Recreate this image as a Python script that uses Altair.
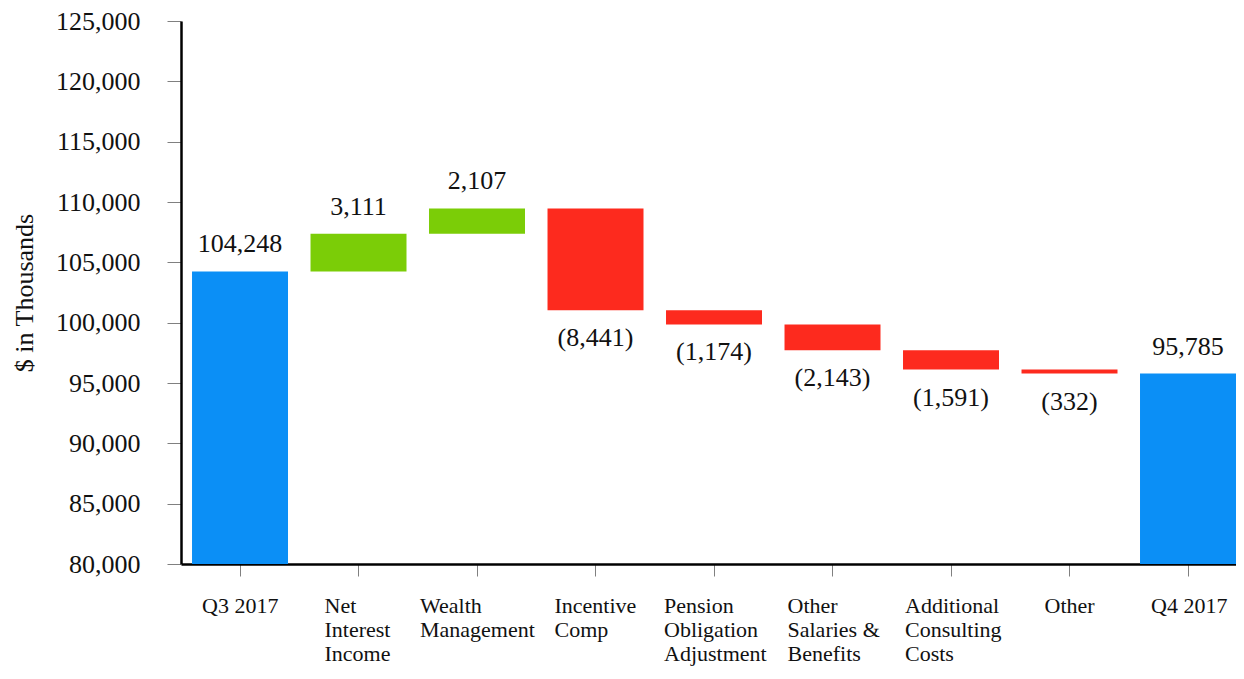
import json
import altair as alt
import pandas as pd

# ---- data ----
categories = [
    "Q3 2017", "Net Interest Income", "Wealth Management", "Incentive Comp",
    "Pension Obligation Adjustment", "Other Salaries & Benefits",
    "Additional Consulting Costs", "Other", "Q4 2017",
]
tick_label_lines = [
    ["Q3 2017"], ["Net", "Interest", "Income"], ["Wealth", "Management"],
    ["Incentive", "Comp"], ["Pension", "Obligation", "Adjustment"],
    ["Other", "Salaries &", "Benefits"], ["Additional", "Consulting", "Costs"],
    ["Other"], ["Q4 2017"],
]
amounts = [104248, 3111, 2107, -8441, -1174, -2143, -1591, -332, 95785]
kinds = ["total", "increase", "increase", "decrease", "decrease",
         "decrease", "decrease", "decrease", "total"]
y_ticks = [80000, 85000, 90000, 95000, 100000, 105000, 110000, 115000, 120000, 125000]

# ---- styles ----
label_shift = {  # half-width of each multi-line label block (px)
    "Q3 2017": 38, "Net Interest Income": 34, "Wealth Management": 57,
    "Incentive Comp": 41, "Pension Obligation Adjustment": 50,
    "Other Salaries & Benefits": 45, "Additional Consulting Costs": 46,
    "Other": 25, "Q4 2017": 37,
}
FONT = "Liberation Serif"

# ---- waterfall table ----
rows = []
running = 0
for cat, amt, kind in zip(categories, amounts, kinds):
    if kind == "total":
        start, end = 0, amt
        running = amt
        text = f"{amt:,}"
    else:
        start, end = running, running + amt
        running = end
        text = f"{amt:,}" if amt > 0 else f"({abs(amt):,})"
    rows.append({
        "cat": cat, "start": start, "end": end, "kind": kind, "text": text,
        "top": max(start, end), "bottom": min(start, end),
        "above": kind != "decrease",
    })
df = pd.DataFrame(rows)


def lookup_expr(mapping, default):
    expr = default
    for k, v in reversed(list(mapping.items())):
        expr = f"datum.value == {json.dumps(k)} ? {json.dumps(v)} : ({expr})"
    return expr


lines_map = dict(zip(categories, tick_label_lines))
label_expr = lookup_expr(lines_map, "datum.label")
offset_expr = lookup_expr({k: -v for k, v in label_shift.items()}, "0")

x_enc = alt.X(
    "cat:N", sort=categories, title=None,
    scale=alt.Scale(paddingInner=0.19, paddingOuter=0.0465, align=1),
    axis=alt.Axis(
        labelAngle=0, labelAlign="left", labelBaseline="top",
        labelExpr=label_expr, labelOffset=alt.ExprRef(offset_expr),
        labelFont=FONT, labelFontSize=22, labelColor="#111111",
        labelLineHeight=24, labelPadding=19,
        tickSize=12, tickColor="#808080", tickWidth=1,
        domainColor="#000000", domainWidth=2.5, labelLimit=0,
    ),
)
y_scale = alt.Scale(domain=[80000, 125000], nice=False, zero=False)
y_axis = alt.Axis(
    values=y_ticks, format=",.0f",
    labelFont=FONT, labelFontSize=26, labelColor="#111111",
    labelPadding=27, tickSize=14, tickColor="#808080",
    tickWidth=1, domainColor="#000000", domainWidth=2.5,
    grid=False, titleFont=FONT, titleFontSize=26,
    titleFontWeight="normal", titleColor="#111111",
    titlePadding=18,
)

bars = alt.Chart(df).mark_bar(clip=True).encode(
    x=x_enc,
    y=alt.Y("end:Q", scale=y_scale, title="$ in Thousands", axis=y_axis),
    y2="start:Q",
    color=alt.Color("kind:N", legend=None,
                    scale=alt.Scale(domain=["total", "increase", "decrease"],
                                    range=["#0B8FF6", "#7BCD07", "#FD2A1E"])),
)

above = alt.Chart(df).transform_filter("datum.above").mark_text(
    font=FONT, fontSize=26, baseline="alphabetic", dy=-19, color="#111111"
).encode(x=alt.X("cat:N", sort=categories),
         y=alt.Y("top:Q", scale=y_scale, title="$ in Thousands", axis=y_axis),
         text="text:N")

below = alt.Chart(df).transform_filter("!datum.above").mark_text(
    font=FONT, fontSize=26, baseline="alphabetic", dy=36, color="#111111"
).encode(x=alt.X("cat:N", sort=categories),
         y=alt.Y("bottom:Q", scale=y_scale, title="$ in Thousands", axis=y_axis),
         text="text:N")

chart = alt.layer(bars, above, below).properties(
    width=1055, height=543,
    background="white",
    autosize=alt.AutoSizeParams(type="none"),
    padding={"left": 173, "top": 13, "right": 0, "bottom": 106},
).configure_view(stroke=None)

chart.save("out.html", embed_options={"renderer": "svg", "actions": False})
